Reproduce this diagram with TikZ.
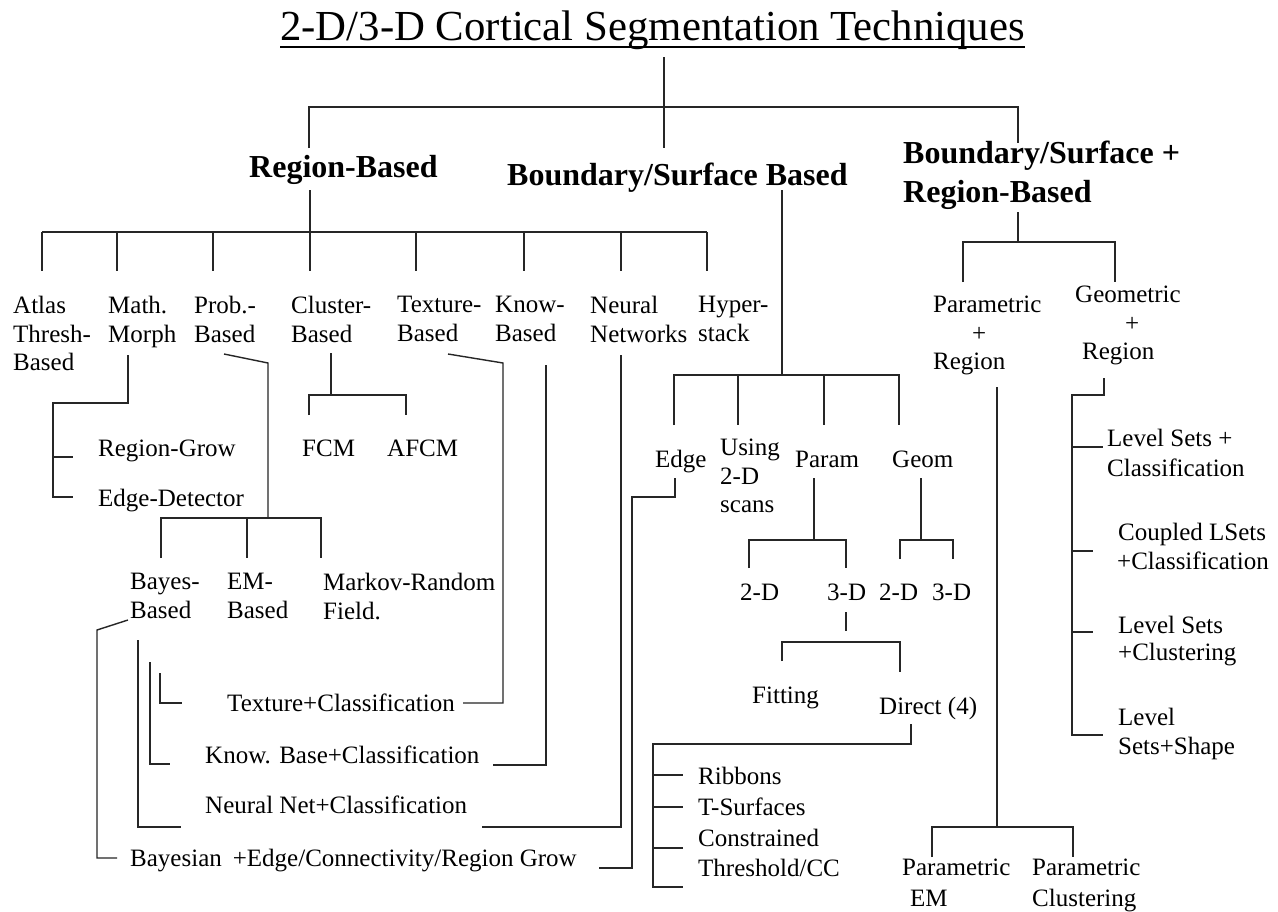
\documentclass[tikz,border=0pt]{standalone}
\usepackage{fontspec}
\setmainfont{Liberation Serif}
\begin{document}
\begin{tikzpicture}[x=1pt,y=-1pt,
  conn/.style={line width=1.4pt, draw=black!85, line join=miter},
  ttl/.style={font=\fontsize{42.8}{50}\selectfont, inner sep=0pt, anchor=base west},
  head/.style={font=\fontsize{32}{39}\selectfont\bfseries, inner sep=0pt, anchor=base west},
  headml/.style={font=\fontsize{32}{39}\selectfont\bfseries, inner sep=0pt, anchor=north west, align=left, execute at begin node={\vphantom{Bdl}}},
  lbl/.style={font=\fontsize{25}{28.5}\selectfont, inner sep=0pt, anchor=base west},
  ml/.style={font=\fontsize{25}{28.5}\selectfont, inner sep=0pt, anchor=north west, align=left, execute at begin node={\vphantom{Bdl}}}]
\fill[white] (0,0) rectangle (1278,911);
\useasboundingbox (0,0) rectangle (1278,911);

% ---------- texts ----------
\node[ttl] (title) at (280,40) {2-D/3-D Cortical Segmentation Techniques};
\draw[line width=1.8pt] ([yshift=-7pt]title.base west) -- ([yshift=-7pt]title.base east);

\node[head] (rb) at (249,177) {Region-Based};
\node[head] (bsb) at (507,185) {Boundary/Surface Based};
\node[headml] (bsrb) at (903,141) {Boundary/Surface +\\Region-Based};

\node[ml] (atlas) at (13,296) {Atlas\\Thresh-\\Based};
\node[ml] (math) at (108,296) {Math.\\Morph};
\node[ml] (prob) at (194,296) {Prob.-\\Based};
\node[ml] (clus) at (291,296) {Cluster-\\Based};
\node[ml] (text) at (397,296) {Texture-\\Based};
\node[ml] (know) at (495,296) {Know-\\Based};
\node[ml] (neur) at (590,296) {Neural\\Networks};
\node[ml] (hyp) at (698,296) {Hyper-\\stack};

\node[lbl] (rgrow) at (98,456) {Region-Grow};
\node[lbl] (edet) at (98,506) {Edge-Detector};
\node[lbl] (fcm) at (302,456) {FCM};
\node[lbl] (afcm) at (387,456) {AFCM};

\node[ml] (bayes) at (130,573) {Bayes-\\Based};
\node[ml] (em) at (227,573) {EM-\\Based};
\node[ml] (mrf) at (323,573) {Markov-Random\\Field.};

\node[lbl] (texcl) at (227,711) {Texture+Classification};
\node[lbl] (kncl) at (205,763) {Know. Base+Classification};
\node[lbl] (nncl) at (205,813) {Neural Net+Classification};
\node[lbl] (bayeg) at (130,866) {Bayesian\hspace{11pt}+Edge/Connectivity/Region Grow};

\node[lbl] (edge) at (655,467) {Edge};
\node[ml] (using) at (720,439) {Using\\2-D\\scans};
\node[lbl] (param) at (795,467) {Param};
\node[lbl] (geom) at (892,467) {Geom};
\node[lbl] (p2d) at (740,600) {2-D};
\node[lbl] (p3d) at (827,600) {3-D};
\node[lbl] (g2d) at (879,600) {2-D};
\node[lbl] (g3d) at (932,600) {3-D};
\node[lbl] (fit) at (752,703) {Fitting};
\node[lbl] (direct) at (879,714) {Direct (4)};
\node[lbl] (ribb) at (698,784) {Ribbons};
\node[lbl] (tsurf) at (698,815) {T-Surfaces};
\node[lbl] (constr) at (698,846) {Constrained};
\node[lbl] (thresh) at (698,876) {Threshold/CC};

\node[ml] (pr) at (933,296) {Parametric\\\hspace*{39pt}+\\Region};
\node[ml] (gr) at (1075,286) {Geometric\\\hspace*{50pt}+\\\hspace*{7pt}Region};
\node[ml] (lscl) at (1107,429) {Level Sets +\\[1.5pt]Classification};
\node[ml] (cls) at (1117,523) {\hspace*{1pt}Coupled LSets\\+Classification};
\node[ml] (lsclu) at (1118,616) {Level Sets\\[-1.5pt]+Clustering};
\node[ml] (lssh) at (1118,708) {Level\\Sets+Shape};
\node[ml] (pem) at (902,859) {Parametric\\[2.5pt]\hspace*{8pt}EM};
\node[ml] (pclu) at (1032,859) {Parametric\\[2.5pt]Clustering};

% ---------- connector end points ----------
\coordinate (titleS) at (664,57);
\coordinate (bsbN) at (664,148);
\coordinate (rbN) at (309,148);
\coordinate (bsrbN) at (1018,143);
\coordinate (rbS) at (310,190);
\coordinate (mathS) at (128,355);
\coordinate (rgrowW) at (73,457);
\coordinate (edetW) at (73,497);
\coordinate (clusS) at (331,353);
\coordinate (fcmN) at (309,415);
\coordinate (afcmN) at (406,415);
\coordinate (probS) at (224,354);
\coordinate (bayesN) at (161,558);
\coordinate (emN) at (247,558);
\coordinate (mrfN) at (321,558);
\coordinate (bayesS) at (128,620);
\coordinate (bayegW) at (117,858);
\coordinate (bayegE) at (599,868);
\coordinate (edgeS) at (675,478);
\coordinate (nnclW) at (181,827);
\coordinate (nnclE) at (482,827);
\coordinate (neurS) at (621,355);
\coordinate (knclW) at (170,764);
\coordinate (knclE) at (493,765);
\coordinate (knowS) at (546,365);
\coordinate (texclW) at (182,703);
\coordinate (texclE) at (463,703);
\coordinate (textS) at (448,354);
\coordinate (bsbS) at (782,190);
\coordinate (edgeN) at (674,425);
\coordinate (usingN) at (738,425);
\coordinate (paramN) at (824,425);
\coordinate (geomN) at (899,425);
\coordinate (paramS) at (814,478);
\coordinate (p2dN) at (749,568);
\coordinate (p3dN) at (846,568);
\coordinate (geomS) at (921,478);
\coordinate (g2dN) at (900,559);
\coordinate (g3dN) at (953,559);
\coordinate (p3dS) at (846,612);
\coordinate (p3dT) at (846,631);
\coordinate (fitN) at (782,661);
\coordinate (directN) at (900,672);
\coordinate (directS) at (911,724);
\coordinate (ribbW) at (683,775);
\coordinate (tsurfW) at (683,807);
\coordinate (constrW) at (683,848);
\coordinate (threshW) at (683,887);
\coordinate (bsrbS) at (1018,212);
\coordinate (prN) at (963,282);
\coordinate (grN) at (1115,282);
\coordinate (prS) at (997,387);
\coordinate (pemN) at (932,857);
\coordinate (pcluN) at (1073,857);
\coordinate (grS) at (1104,378);
\coordinate (lsclW) at (1103,447);
\coordinate (clsW) at (1093,551);
\coordinate (lscluW) at (1093,632);
\coordinate (lsshW) at (1103,735);

% ---------- connectors ----------
\draw[conn] (titleS) -- (bsbN);
\draw[conn] (rbN) -- (309,107) -- (1018,107) -- (bsrbN);

\draw[conn] (rbS) -- (310,232);
\draw[conn] (42,232) -- (707,232);
\foreach \x in {42,117,213,310,416,524,621,707}
  \draw[conn] (\x,232) -- (\x,271);

\draw[conn] (mathS) -- (128,403) -- (53,403) -- (53,497) -- (edetW);
\draw[conn] (53,457) -- (rgrowW);

\draw[conn] (clusS) -- (331,395);
\draw[conn] (fcmN) -- (309,395) -- (406,395) -- (afcmN);

\draw[conn] (probS) -- (268,363) -- (268,518);
\draw[conn] (bayesN) -- (161,518) -- (321,518) -- (mrfN);
\draw[conn] (247,518) -- (emN);

\draw[conn] (bayesS) -- (97,630) -- (97,858) -- (bayegW);
\draw[conn] (bayegE) -- (632,868) -- (632,497) -- (675,497) -- (edgeS);

\draw[conn] (138,640) -- (138,827) -- (nnclW);
\draw[conn] (nnclE) -- (621,827) -- (neurS);

\draw[conn] (150,662) -- (150,764) -- (knclW);
\draw[conn] (knclE) -- (546,765) -- (knowS);

\draw[conn] (160,673) -- (160,703) -- (texclW);
\draw[conn] (texclE) -- (503,703) -- (503,363) -- (textS);

\draw[conn] (bsbS) -- (782,375);
\draw[conn] (edgeN) -- (674,375) -- (899,375) -- (geomN);
\draw[conn] (738,375) -- (usingN);
\draw[conn] (824,375) -- (paramN);

\draw[conn] (paramS) -- (814,540);
\draw[conn] (p2dN) -- (749,540) -- (846,540) -- (p3dN);
\draw[conn] (geomS) -- (921,540);
\draw[conn] (g2dN) -- (900,540) -- (953,540) -- (g3dN);

\draw[conn] (p3dS) -- (p3dT);
\draw[conn] (fitN) -- (782,642) -- (900,642) -- (directN);

\draw[conn] (directS) -- (911,744) -- (653,744) -- (653,887) -- (threshW);
\draw[conn] (653,775) -- (ribbW);
\draw[conn] (653,807) -- (tsurfW);
\draw[conn] (653,848) -- (constrW);

\draw[conn] (bsrbS) -- (1018,242);
\draw[conn] (prN) -- (963,242) -- (1115,242) -- (grN);

\draw[conn] (prS) -- (997,827);
\draw[conn] (pemN) -- (932,827) -- (1073,827) -- (pcluN);

\draw[conn] (grS) -- (1104,395) -- (1072,395) -- (1072,735) -- (lsshW);
\draw[conn] (1072,447) -- (lsclW);
\draw[conn] (1072,551) -- (clsW);
\draw[conn] (1072,632) -- (lscluW);
\end{tikzpicture}
\end{document}
